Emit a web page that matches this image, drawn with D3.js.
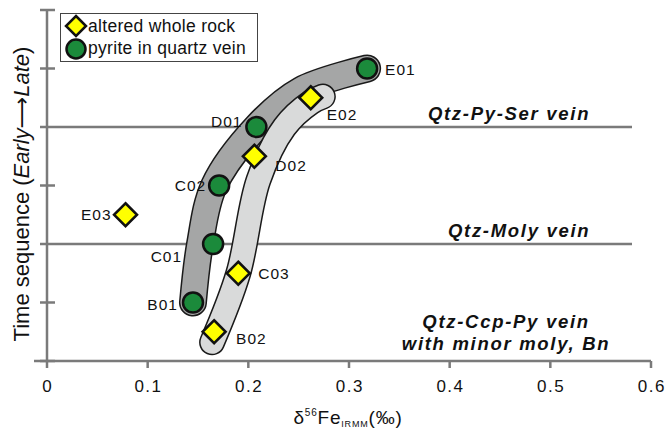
<!DOCTYPE html>
<html>
<head>
<meta charset="utf-8">
<style>
  body { margin: 0; background: #fff; }
  svg text { font-family: "Liberation Sans", Arial, sans-serif; }
</style>
</head>
<body>
<div id="chart"></div>
<script src="https://d3js.org/d3.v7.min.js"></script>
<script>
// ---- data ----
const rockNames = ['E02', 'D02', 'E03', 'C03', 'B02'];
const rockFe    = [0.262, 0.206, 0.078, 0.190, 0.166];
const rockTime  = [4.5, 3.5, 2.5, 1.5, 0.5];

const pyNames = ['E01', 'D01', 'C02', 'C01', 'B01'];
const pyFe    = [0.318, 0.208, 0.171, 0.165, 0.145];
const pyTime  = [5.0, 4.0, 3.0, 2.0, 1.0];

// envelope centre lines (fe, time)
const darkBandFe   = [0.145, 0.152, 0.166, 0.208, 0.252, 0.318];
const darkBandTime = [1.0, 2.0, 3.0, 4.0, 4.63, 5.0];
const lightBandFe   = [0.164, 0.190, 0.210, 0.236, 0.262, 0.274];
const lightBandTime = [0.32, 1.50, 3.09, 4.0, 4.42, 4.52];

const xTicks = [0, 0.1, 0.2, 0.3, 0.4, 0.5, 0.6];
const yTicks = [0, 1, 2, 3, 4, 5, 6];
const stageLines = [4, 2];
const stageLabels = [
  { lines: ['Qtz-Py-Ser vein'], fe: 0.459, t: 4.1 },
  { lines: ['Qtz-Moly vein'], fe: 0.469, t: 2.1 },
  { lines: ['Qtz-Ccp-Py vein', 'with minor moly, Bn'], fe: 0.456, t: 0.55 }
];

// ---- drawing ----
const W = 665, H = 432;
const svg = d3.select('#chart').append('svg')
  .attr('width', W).attr('height', H);

const x = d3.scaleLinear().domain([0, 0.6]).range([47, 651]);
const y = d3.scaleLinear().domain([0, 6]).range([361, 10]);
const axisCol = '#7a7a7a';

// stage separators
svg.selectAll('line.stage')
  .data(stageLines).enter().append('line')
  .attr('x1', 55).attr('x2', 632)
  .attr('y1', d => y(d)).attr('y2', d => y(d))
  .attr('stroke', axisCol).attr('stroke-width', 2.5);

// stage labels
stageLabels.forEach(s => {
  s.lines.forEach((ln, i) => {
    svg.append('text')
      .attr('x', x(s.fe)).attr('y', y(s.t) + i * 22 - 1)
      .attr('text-anchor', 'middle')
      .style('font-size', '18.5px').style('font-weight', 'bold').style('font-style', 'italic')
      .style('letter-spacing', '1.7px')
      .attr('fill', '#111')
      .text(ln);
  });
});

// envelopes
const band = d3.line().x(d => x(d[0])).y(d => y(d[1])).curve(d3.curveCatmullRom.alpha(0.5));
function drawBand(fe, t, fill, w) {
  const pts = fe.map((v, i) => [v, t[i]]);
  svg.append('path').attr('d', band(pts))
    .attr('fill', 'none').attr('stroke', '#1a1a1a').attr('stroke-width', w + 3)
    .attr('stroke-linecap', 'round');
  svg.append('path').attr('d', band(pts))
    .attr('fill', 'none').attr('stroke', fill).attr('stroke-width', w)
    .attr('stroke-linecap', 'round');
}
drawBand(darkBandFe, darkBandTime, '#a5a6a6', 25);
drawBand(lightBandFe, lightBandTime, '#d9dada', 23);

// axes
const xAxis = svg.append('g');
xAxis.append('line').attr('x1', 34).attr('x2', 651).attr('y1', y(0)).attr('y2', y(0))
  .attr('stroke', axisCol).attr('stroke-width', 2.5);
xAxis.selectAll('line.tick').data(xTicks).enter().append('line')
  .attr('x1', d => x(d)).attr('x2', d => x(d))
  .attr('y1', y(0)).attr('y2', y(0) + 7)
  .attr('stroke', axisCol).attr('stroke-width', 2.5);
xAxis.selectAll('text').data(xTicks).enter().append('text')
  .attr('x', d => x(d) + 0.8).attr('y', 392)
  .attr('text-anchor', 'middle').style('font-size', '17px').style('letter-spacing', '1.5px')
  .attr('fill', '#111')
  .text(d => d3.format('')(d));

const yAxis = svg.append('g');
yAxis.append('line').attr('x1', 47).attr('x2', 47).attr('y1', y(6)).attr('y2', y(0))
  .attr('stroke', axisCol).attr('stroke-width', 2.5);
yAxis.selectAll('line.tick').data(yTicks).enter().append('line')
  .attr('x1', 40).attr('x2', 55)
  .attr('y1', d => y(d)).attr('y2', d => y(d))
  .attr('stroke', axisCol).attr('stroke-width', 2.5);

// axis titles
const xt = svg.append('text').attr('x', 348).attr('y', 424)
  .attr('text-anchor', 'middle').style('font-size', '19px').style('letter-spacing', '0.8px')
  .attr('fill', '#111');
xt.append('tspan').text('δ');
xt.append('tspan').attr('dy', -8).style('font-size', '10px').text('56');
xt.append('tspan').attr('dy', 8).text('Fe');
xt.append('tspan').attr('dy', 3).style('font-size', '9px').text('IRMM');
xt.append('tspan').attr('dy', -3).text('(‰)');

const yt = svg.append('text')
  .attr('transform', 'translate(28.5,194) rotate(-90)')
  .attr('text-anchor', 'middle').style('font-size', '22px').attr('fill', '#111');
yt.append('tspan').text('Time sequence (');
yt.append('tspan').style('font-style', 'italic').text('Early');
yt.append('tspan').style('font-family', 'DejaVu Sans').text('⟶');
yt.append('tspan').style('font-style', 'italic').text('Late');
yt.append('tspan').text(')');

// points
const diamond = (cx, cy, r) => `M${cx},${cy - r}L${cx + r},${cy}L${cx},${cy + r}L${cx - r},${cy}Z`;
const rockData = rockNames.map((n, i) => ({ n, fe: rockFe[i], t: rockTime[i] }));
const pyData = pyNames.map((n, i) => ({ n, fe: pyFe[i], t: pyTime[i] }));

svg.selectAll('circle.py').data(pyData).enter().append('circle')
  .attr('cx', d => x(d.fe)).attr('cy', d => y(d.t)).attr('r', 10)
  .attr('fill', '#1b8a3b').attr('stroke', '#111').attr('stroke-width', 2.5);
svg.selectAll('path.rock').data(rockData).enter().append('path')
  .attr('d', d => diamond(x(d.fe), y(d.t), 11.5))
  .attr('fill', '#ffff00').attr('stroke', '#111').attr('stroke-width', 2.5)
  .attr('stroke-linejoin', 'miter');

// point labels: [dx, dy, anchor]
const labelPos = {
  E01: [18, 6, 'start'], E02: [16, 22, 'start'], D01: [-14, 0, 'end'],
  D02: [21, 15, 'start'], C02: [-13, 5, 'end'], E03: [-14, 5, 'end'],
  C01: [-31, 18, 'end'], C03: [20, 6, 'start'], B01: [-15, 7, 'end'],
  B02: [22, 12, 'start']
};
svg.selectAll('text.lbl').data(pyData.concat(rockData)).enter().append('text')
  .attr('x', d => x(d.fe) + labelPos[d.n][0])
  .attr('y', d => y(d.t) + labelPos[d.n][1])
  .attr('text-anchor', d => labelPos[d.n][2])
  .style('font-size', '15.5px').style('letter-spacing', '1px').attr('fill', '#111')
  .text(d => d.n);

// legend
const lg = svg.append('g');
lg.append('rect').attr('x', 60.5).attr('y', 13.5).attr('width', 197).attr('height', 48)
  .attr('fill', '#fff').attr('stroke', '#444').attr('stroke-width', 1);
lg.append('path').attr('d', diamond(76, 26, 10))
  .attr('fill', '#ffff00').attr('stroke', '#111').attr('stroke-width', 2.5);
lg.append('circle').attr('cx', 76).attr('cy', 49).attr('r', 9.5)
  .attr('fill', '#1b8a3b').attr('stroke', '#111').attr('stroke-width', 2.5);
lg.append('text').attr('x', 88).attr('y', 32).style('font-size', '17.5px')
  .style('letter-spacing', '0.3px').attr('fill', '#111')
  .text('altered whole rock');
lg.append('text').attr('x', 88).attr('y', 54).style('font-size', '17.5px')
  .style('letter-spacing', '0.3px').attr('fill', '#111')
  .text('pyrite in quartz vein');
</script>
</body>
</html>
